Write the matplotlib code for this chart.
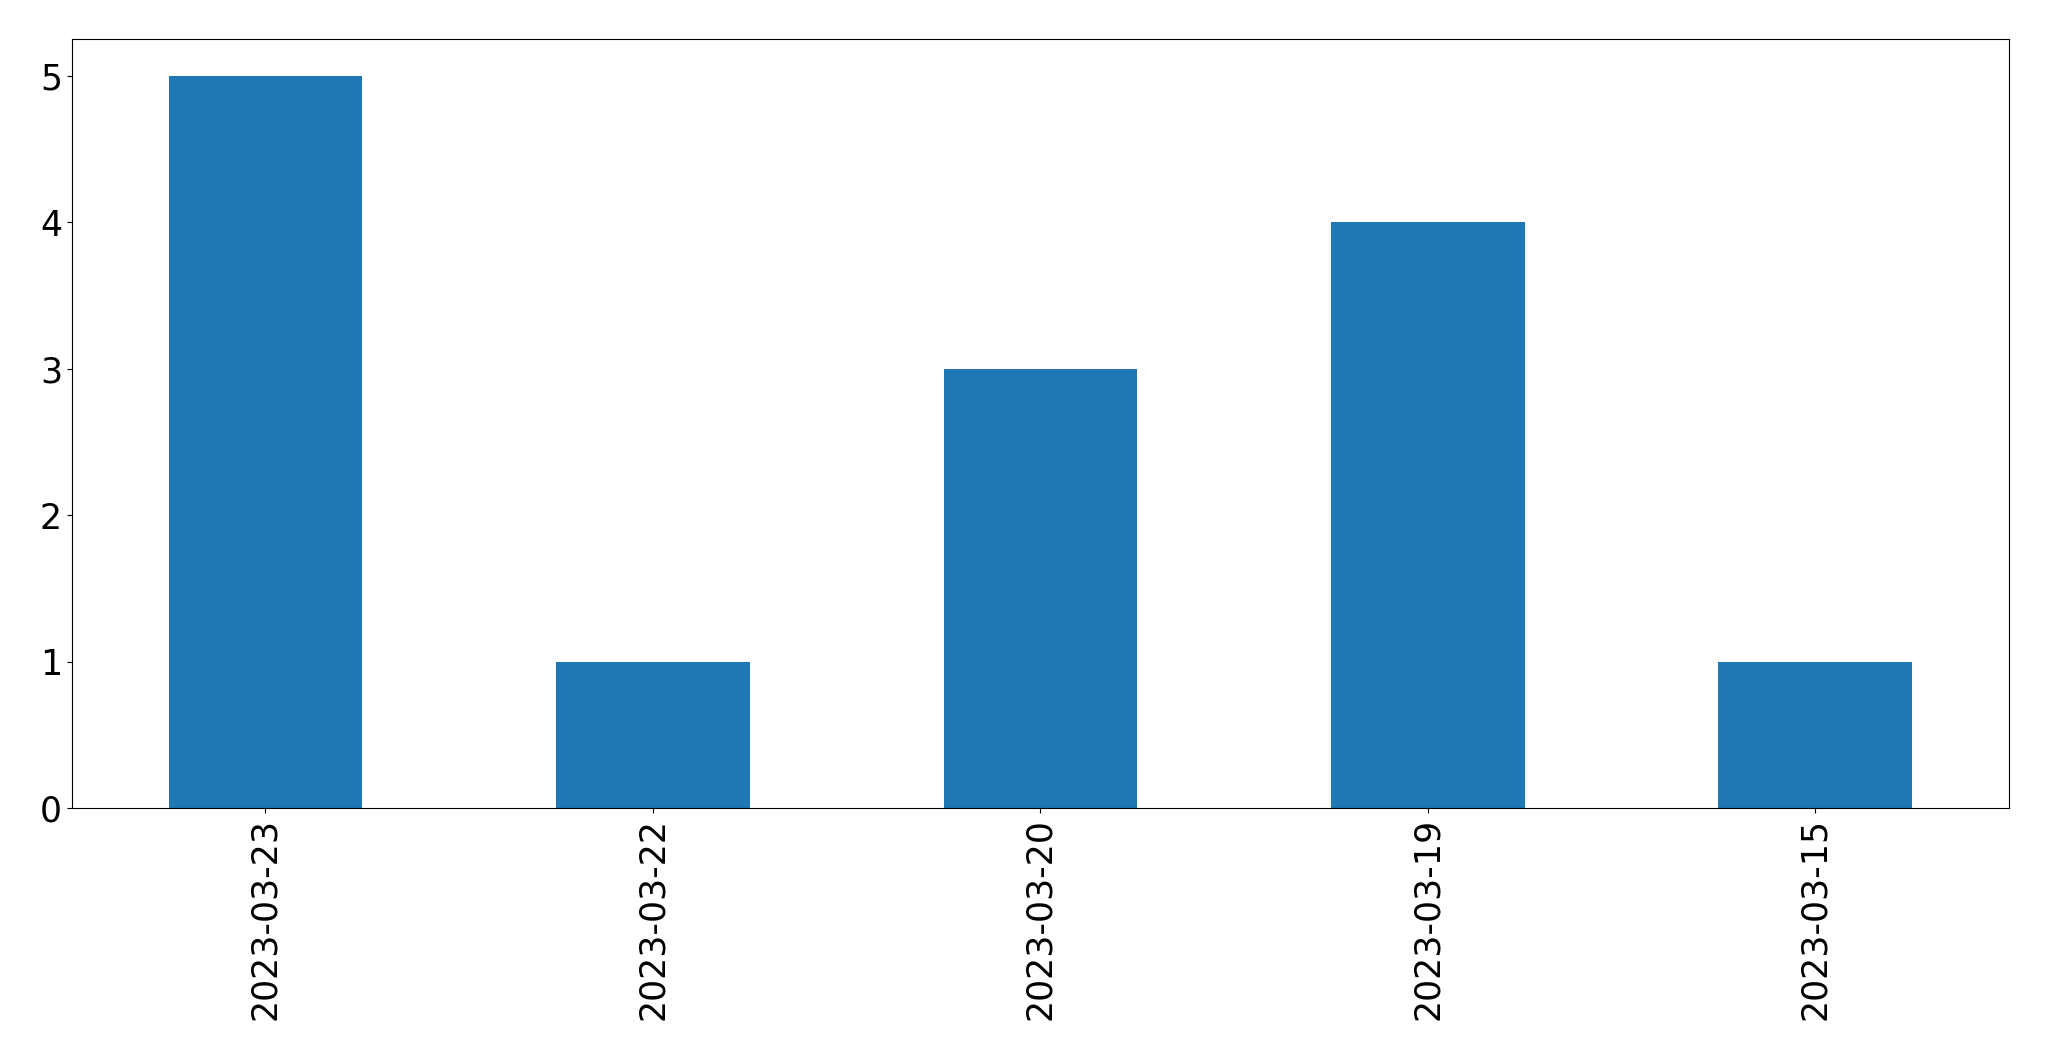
import numpy as np
import pandas as pd
import matplotlib
matplotlib.use('Agg')
import matplotlib.pyplot as plt

fechas = ['2023-03-23', '2023-03-22', '2023-03-20', '2023-03-19', '2023-03-15']
conteo = [5, 1, 3, 4, 1]

s = pd.Series(conteo, index=fechas)

fig, ax = plt.subplots(figsize=(20.49, 10.61), dpi=100)
s.plot(kind='bar', ax=ax, color='#1f77b4')
ax.tick_params(axis='both', labelsize=25)
plt.subplots_adjust(left=0.035, right=0.9805, top=0.963, bottom=0.238)
plt.savefig('out.png', dpi=100)
